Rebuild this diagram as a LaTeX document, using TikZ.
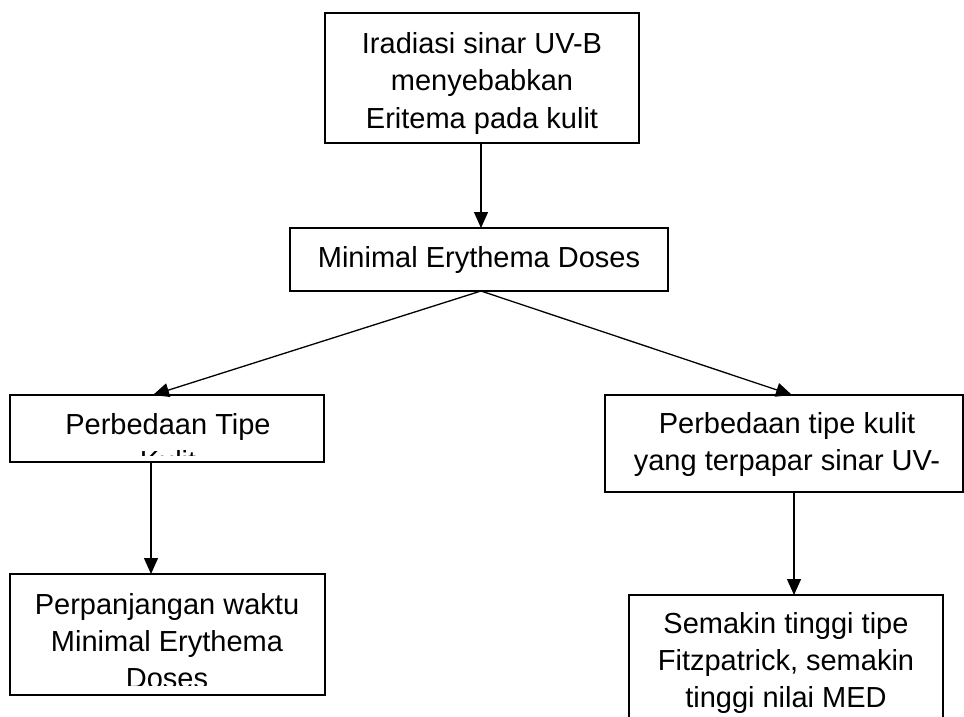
\documentclass[tikz,border=0pt]{standalone}
\usepackage{fontspec}
\setmainfont{Liberation Sans}
\usetikzlibrary{arrows.meta}
\begin{document}
\begin{tikzpicture}[x=1pt,y=-1pt,
  box/.style={draw=black, line width=1.9pt, inner sep=0pt, outer sep=0pt, rectangle},
  txt/.style={anchor=base, inner sep=0pt, font=\fontsize{29}{37}\selectfont},
  conn/.style={line width=1.3pt, -{Triangle[length=16pt,width=14pt]}}]
\useasboundingbox (0,0) rectangle (964,717);
\clip (0,0) rectangle (964,717);
\fill[white] (0,0) rectangle (964,717);

% boxes
\node[box, minimum width=314pt, minimum height=130pt] (top) at (482,78) {};
\node[box, minimum width=378pt, minimum height=63pt] (med) at (479,259.5) {};
\node[box, minimum width=314pt, minimum height=67pt] (left) at (167,428.5) {};
\node[box, minimum width=358pt, minimum height=97pt] (right) at (784,443.5) {};
\node[box, minimum width=315pt, minimum height=121pt] (bl) at (167.5,634.5) {};
\node[box, minimum width=314pt, minimum height=165pt] (br) at (786,677.5) {};

% texts
\node[txt] (t1) at (482,54) {Iradiasi sinar UV-B};
\node[txt] (t2) at (482,91) {menyebabkan};
\node[txt] (t3) at (482,128) {Eritema pada kulit};

\node[txt] (m1) at (479,267) {Minimal Erythema Doses};

\begin{scope}
  \clip ([shift={(1pt,-1pt)}]left.north west) rectangle ([yshift=7pt]left.south east);
  \node[txt] (l1) at (168,434) {Perbedaan Tipe};
  \node[txt] (l2) at (168,471) {Kulit};
\end{scope}

\begin{scope}
  \clip ([shift={(1pt,-1pt)}]right.north west) rectangle ([yshift=7pt]right.south east);
  \node[txt] (r1) at (787,433) {Perbedaan tipe kulit};
  \node[txt] (r2) at (787,470) {yang terpapar sinar UV-};
\end{scope}

\begin{scope}
  \clip ([shift={(1pt,-1pt)}]bl.north west) rectangle ([yshift=9.5pt]bl.south east);
  \node[txt] (b1) at (167,614) {Perpanjangan waktu};
  \node[txt] (b2) at (167,651) {Minimal Erythema};
  \node[txt] (b3) at (167,688.5) {Doses};
\end{scope}

\node[txt] (s1) at (786,633) {Semakin tinggi tipe};
\node[txt] (s2) at (786,670) {Fitzpatrick, semakin};
\node[txt] (s3) at (786,707) {tinggi nilai MED};

% connectors
\coordinate (lt) at (153,395);
\coordinate (rt) at (792,395);
\draw[conn] ([xshift=-1pt]top.south) -- ([xshift=-1pt]top.south |- med.north);
\draw[conn] ([xshift=2pt]med.south) -- (lt);
\draw[conn] ([xshift=2pt]med.south) -- (rt);
\draw[conn] ([xshift=-16pt]left.south) -- ([xshift=-16pt]left.south |- bl.north);
\draw[conn] ([xshift=10pt]right.south) -- ([xshift=10pt]right.south |- br.north);
\end{tikzpicture}
\end{document}
